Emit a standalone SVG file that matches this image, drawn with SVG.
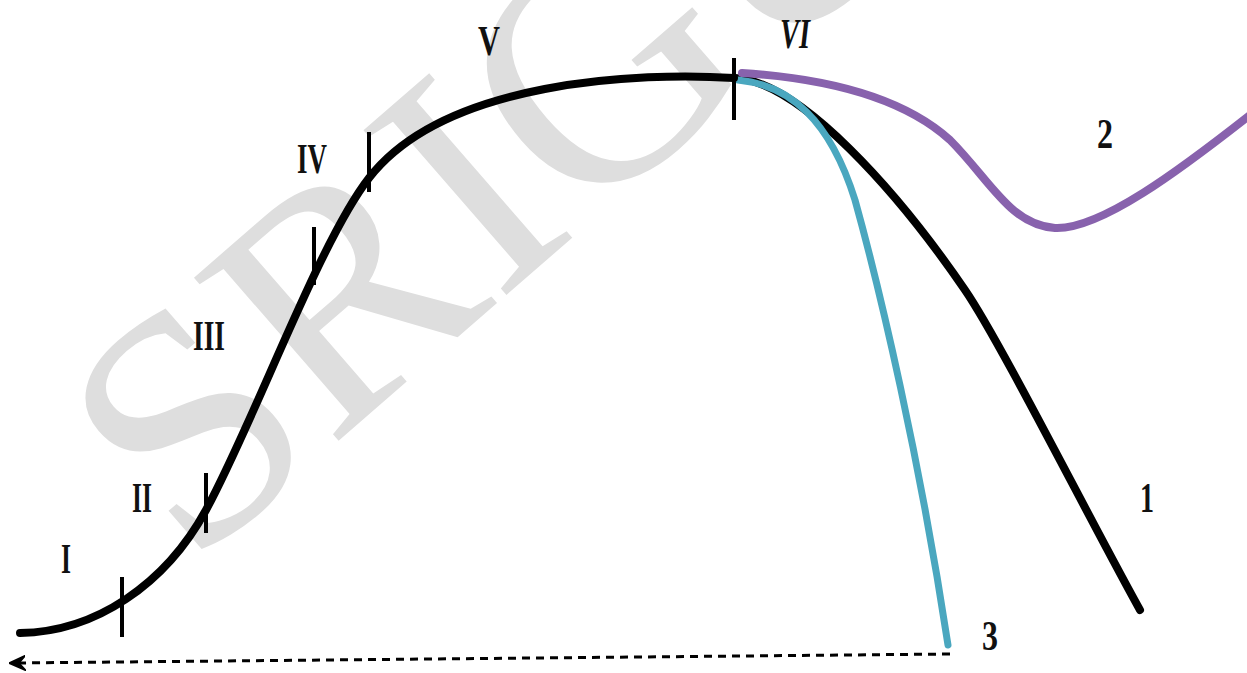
<svg xmlns="http://www.w3.org/2000/svg" width="1247" height="673" viewBox="0 0 1247 673">
<style>
.wm{font-family:"Liberation Serif",serif;font-size:333px;fill:#dedede}
.lbl{font-family:"Liberation Serif","Times New Roman",serif;font-weight:bold;font-size:42px;fill:#111}
.curve{fill:none;stroke-linecap:round;stroke-linejoin:round}
.tick{stroke:#000;stroke-width:4;fill:none}
</style>
<defs>
<marker id="arrow" viewBox="0 0 10 10" refX="7" refY="5" markerWidth="5.5" markerHeight="5.5" orient="auto" markerUnits="strokeWidth">
<path d="M0,0.5 L10,5 L0,9.5 L4,5 Z" fill="#000" stroke="#000" stroke-width="1" stroke-linejoin="round"/>
</marker>
</defs>
<rect width="1247" height="673" fill="#fff"/>
<g id="watermark">
<text class="wm" transform="translate(190,570) rotate(-41)">SRIGU</text>
</g>
<g id="connectors">
<path id="curve-1" class="curve" stroke="#000" stroke-width="8" d="M734,78 C800,80 900,195 965,290 C1000,341 1090,520 1140,610"/>
<path id="curve-3" class="curve" stroke="#4aa7bf" stroke-width="7" d="M738,80 C790,85 830,120 855,200 C880,290 920,460 948,645"/>
<path id="curve-2" class="curve" stroke="#8862ad" stroke-width="8" d="M742,73 C820,78 900,95 950,140 C990,180 1010,225 1055,228 C1100,230 1180,170 1250,115"/>
<path id="curve-main" class="curve" stroke="#000" stroke-width="8" d="M20,633 C95,632 165,585 206,510 C255,420 319,242 369,178 C445,80 640,72 734,78"/>
<path id="time-axis" fill="none" stroke="#000" stroke-width="3" stroke-dasharray="8 6" marker-end="url(#arrow)" d="M950,654 L14,663"/>
</g>
<g id="ticks">
<line class="tick" x1="122" y1="577" x2="122" y2="637"/>
<line class="tick" x1="206" y1="473" x2="206" y2="533"/>
<line class="tick" x1="314" y1="227" x2="314" y2="285"/>
<line class="tick" x1="369" y1="132" x2="369" y2="192"/>
<line class="tick" x1="734" y1="58" x2="734" y2="120"/>
</g>
<g id="labels">
<text id="lbl-I" class="lbl" x="61" y="573" textLength="10" lengthAdjust="spacingAndGlyphs">I</text>
<text id="lbl-II" class="lbl" x="132" y="512" textLength="20" lengthAdjust="spacingAndGlyphs">II</text>
<text id="lbl-III" class="lbl" x="193" y="350" textLength="32" lengthAdjust="spacingAndGlyphs">III</text>
<text id="lbl-IV" class="lbl" x="297" y="173" textLength="30" lengthAdjust="spacingAndGlyphs">IV</text>
<text id="lbl-V" class="lbl" x="478" y="55" textLength="22" lengthAdjust="spacingAndGlyphs">V</text>
<text id="lbl-VI" class="lbl" x="780" y="48" font-style="italic" textLength="30" lengthAdjust="spacingAndGlyphs">VI</text>
<text id="lbl-2" class="lbl" x="1097" y="148" textLength="16" lengthAdjust="spacingAndGlyphs">2</text>
<text id="lbl-1" class="lbl" x="1140" y="512" textLength="14" lengthAdjust="spacingAndGlyphs">1</text>
<text id="lbl-3" class="lbl" x="982" y="650" textLength="16" lengthAdjust="spacingAndGlyphs">3</text>
</g>
</svg>
